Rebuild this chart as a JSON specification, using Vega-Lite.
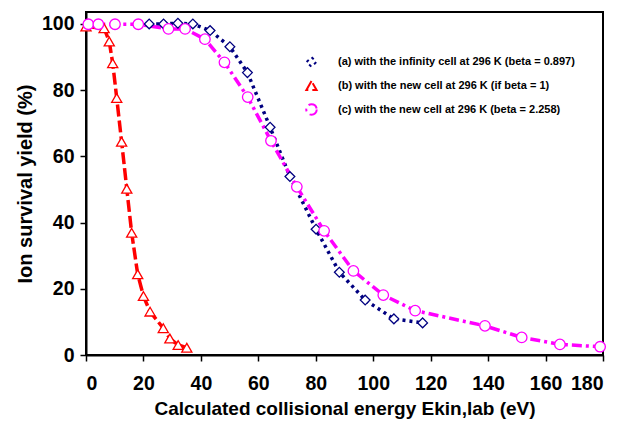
{
  "$schema": "https://vega.github.io/schema/vega-lite/v6.json",
  "width": 517,
  "height": 343,
  "autosize": {"type": "none"},
  "padding": {"left": 86, "top": 12, "right": 18, "bottom": 71},
  "background": "white",
  "config": {
    "view": {"stroke": "black", "strokeWidth": 2},
    "axis": {
      "grid": false,
      "domainColor": "black",
      "domainWidth": 2,
      "tickColor": "black",
      "tickWidth": 1.5,
      "tickSize": 6,
      "labelFont": "Liberation Sans",
      "labelFontWeight": "bold",
      "labelFontSize": 19.5,
      "labelColor": "black",
      "titleFont": "Liberation Sans",
      "titleFontWeight": "bold",
      "titleColor": "black"
    }
  },
  "data": {
    "values": [
      {"series": "a", "x": 22, "y": 100}, {"series": "a", "x": 27, "y": 100}, {"series": "a", "x": 32, "y": 100.2}, {"series": "a", "x": 37.2, "y": 100},
      {"series": "a", "x": 43.2, "y": 98.0}, {"series": "a", "x": 50.1, "y": 93.1}, {"series": "a", "x": 56.2, "y": 85.3}, {"series": "a", "x": 64.1, "y": 68.8},
      {"series": "a", "x": 71.0, "y": 53.9}, {"series": "a", "x": 80.1, "y": 38.0}, {"series": "a", "x": 88.2, "y": 25.0}, {"series": "a", "x": 97.2, "y": 16.6},
      {"series": "a", "x": 107.2, "y": 10.9}, {"series": "a", "x": 117.2, "y": 9.7},
      {"series": "b", "x": 0, "y": 99.2}, {"series": "b", "x": 6.3, "y": 98.7}, {"series": "b", "x": 8.1, "y": 94.7}, {"series": "b", "x": 9.3, "y": 88.1},
      {"series": "b", "x": 10.7, "y": 77.6}, {"series": "b", "x": 12.4, "y": 64.4}, {"series": "b", "x": 14.2, "y": 50.2}, {"series": "b", "x": 15.9, "y": 36.9},
      {"series": "b", "x": 18.0, "y": 24.4}, {"series": "b", "x": 20.0, "y": 17.8}, {"series": "b", "x": 22.3, "y": 13.1}, {"series": "b", "x": 26.9, "y": 8.1},
      {"series": "b", "x": 29.2, "y": 5.0}, {"series": "b", "x": 32.1, "y": 3.0}, {"series": "b", "x": 35.1, "y": 2.2},
      {"series": "c", "x": 0.8, "y": 99.9}, {"series": "c", "x": 4.3, "y": 99.9}, {"series": "c", "x": 10.1, "y": 99.9}, {"series": "c", "x": 18.2, "y": 99.9},
      {"series": "c", "x": 28.7, "y": 98.5}, {"series": "c", "x": 34.5, "y": 98.5}, {"series": "c", "x": 41.4, "y": 95.4}, {"series": "c", "x": 48.2, "y": 88.4},
      {"series": "c", "x": 56.3, "y": 77.9}, {"series": "c", "x": 64.4, "y": 64.7}, {"series": "c", "x": 73.4, "y": 50.8}, {"series": "c", "x": 82.9, "y": 37.5},
      {"series": "c", "x": 93.1, "y": 25.4}, {"series": "c", "x": 103.5, "y": 18.1}, {"series": "c", "x": 114.6, "y": 13.4}, {"series": "c", "x": 138.9, "y": 8.8},
      {"series": "c", "x": 151.7, "y": 5.3}, {"series": "c", "x": 165.0, "y": 3.2}, {"series": "c", "x": 179.0, "y": 2.5}
    ]
  },
  "layer": [
    {
      "mark": {"type": "line", "strokeWidth": 3.5},
      "encoding": {
        "x": {
          "field": "x", "type": "quantitative",
          "scale": {"domain": [0, 180], "nice": false, "zero": false},
          "axis": {
            "values": [0, 20, 40, 60, 80, 100, 120, 140, 160, 180],
            "title": "Calculated collisional energy Ekin,lab (eV)",
            "titleFontSize": 19, "labelPadding": 13, "titlePadding": 7
          }
        },
        "y": {
          "field": "y", "type": "quantitative",
          "scale": {"domain": [0, 103.6], "nice": false},
          "axis": {
            "values": [0, 20, 40, 60, 80, 100],
            "title": "Ion survival yield (%)",
            "titleFontSize": 20, "labelPadding": 6, "titlePadding": 6
          }
        },
        "color": {
          "field": "series", "type": "nominal",
          "scale": {"domain": ["a", "b", "c"], "range": ["#000080", "#FF0000", "#FF00FF"]},
          "legend": {
            "orient": "none",
            "legendX": 219,
            "legendY": 44,
            "title": null,
            "labelExpr": "datum.value === 'a' ? '(a) with the infinity cell at 296 K (beta = 0.897)' : datum.value === 'b' ? '(b) with the new cell at 296 K (if beta = 1)' : '(c) with the new cell at 296 K (beta = 2.258)'",
            "labelFont": "Liberation Sans",
            "labelFontWeight": "bold",
            "labelFontSize": 11,
            "labelColor": "black",
            "labelLimit": 400,
            "labelOffset": 20,
            "symbolStrokeWidth": 2,
            "symbolFillColor": "white",
            "rowPadding": 6
          }
        },
        "strokeDash": {
          "field": "series", "type": "nominal",
          "scale": {"domain": ["a", "b", "c"], "range": [[3, 4], [12, 4], [10, 4, 3, 4]]},
          "legend": null
        }
      }
    },
    {
      "mark": {"type": "point", "filled": false, "fill": "white", "fillOpacity": 1, "opacity": 1, "strokeWidth": 1.3},
      "encoding": {
        "x": {"field": "x", "type": "quantitative"},
        "y": {"field": "y", "type": "quantitative"},
        "stroke": {
          "field": "series", "type": "nominal",
          "scale": {"domain": ["a", "b", "c"], "range": ["#000080", "#FF0000", "#FF00FF"]},
          "legend": null
        },
        "shape": {
          "field": "series", "type": "nominal",
          "scale": {"domain": ["a", "b", "c"], "range": ["diamond", "triangle-up", "circle"]},
          "legend": null
        },
        "size": {
          "field": "series", "type": "nominal",
          "scale": {"domain": ["a", "b", "c"], "range": [95, 110, 130]},
          "legend": null
        }
      }
    }
  ]
}
